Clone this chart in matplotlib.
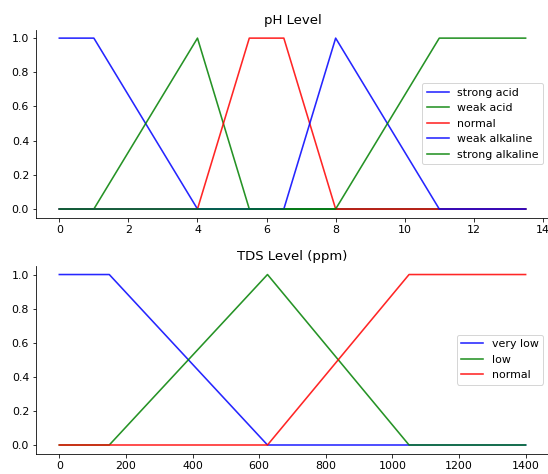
import numpy as np
import matplotlib
matplotlib.use("Agg")
import matplotlib.pyplot as plt

plt.rcParams['font.size'] = 11

# pH membership vertices (x, y)
ph_strong_acid_x = [0, 1, 4, 13.5]
ph_strong_acid_y = [1, 1, 0, 0]
ph_weak_acid_x = [0, 1, 4, 5.5, 13.5]
ph_weak_acid_y = [0, 0, 1, 0, 0]
ph_normal_x = [0, 4, 5.5, 6.5, 8, 13.5]
ph_normal_y = [0, 0, 1, 1, 0, 0]
ph_weak_alk_x = [0, 6.5, 8, 11, 13.5]
ph_weak_alk_y = [0, 0, 1, 0, 0]
ph_strong_alk_x = [0, 8, 11, 13.5]
ph_strong_alk_y = [0, 0, 1, 1]

# TDS membership vertices (x, y)
tds_very_low_x = [0, 150, 625, 1400]
tds_very_low_y = [1, 1, 0, 0]
tds_low_x = [0, 150, 625, 1050, 1400]
tds_low_y = [0, 0, 1, 0, 0]
tds_normal_x = [0, 625, 1050, 1400]
tds_normal_y = [0, 0, 1, 1]

ph_series = [
    (ph_strong_acid_x, ph_strong_acid_y, 'b', 'strong acid'),
    (ph_weak_acid_x, ph_weak_acid_y, 'g', 'weak acid'),
    (ph_normal_x, ph_normal_y, 'r', 'normal'),
    (ph_weak_alk_x, ph_weak_alk_y, 'b', 'weak alkaline'),
    (ph_strong_alk_x, ph_strong_alk_y, 'g', 'strong alkaline'),
]
tds_series = [
    (tds_very_low_x, tds_very_low_y, 'b', 'very low'),
    (tds_low_x, tds_low_y, 'g', 'low'),
    (tds_normal_x, tds_normal_y, 'r', 'normal'),
]

fig = plt.figure(figsize=(548 / 72, 474 / 72), dpi=72)
ax0 = fig.add_axes([0.0657, 0.541, 0.936, 0.3966])
ax1 = fig.add_axes([0.0657, 0.0432, 0.936, 0.3956])

for ax, series, title in [(ax0, ph_series, 'pH Level'),
                          (ax1, tds_series, 'TDS Level (ppm)')]:
    for x, y, c, lab in series:
        ax.plot(x, y, c, linewidth=1.6, label=lab, alpha=0.85)
    ax.set_title(title)
    ax.legend(loc='center right')
    ax.spines['top'].set_visible(False)
    ax.spines['right'].set_visible(False)
    ax.get_xaxis().tick_bottom()
    ax.get_yaxis().tick_left()

fig.savefig("out.png", dpi=72)
